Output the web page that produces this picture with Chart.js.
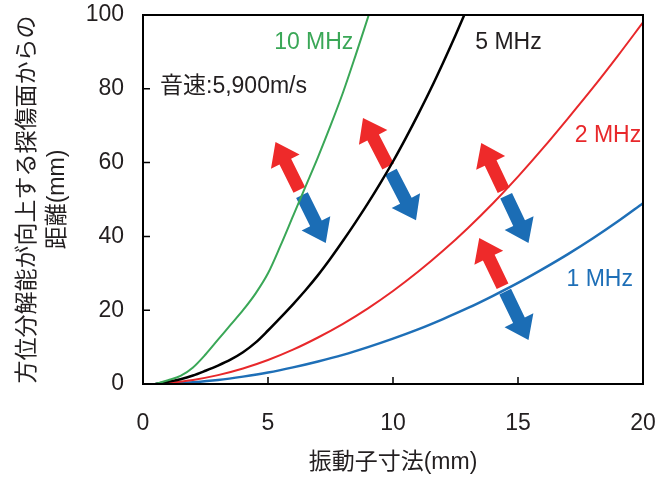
<!DOCTYPE html>
<html>
<head>
<meta charset="utf-8">
<script src="https://cdn.jsdelivr.net/npm/chart.js@4"></script>
<style>
  html, body { margin: 0; padding: 0; background: #fff; }
  #wrap { width: 667px; height: 477px; }
</style>
</head>
<body>
<div id="wrap"><canvas id="nearField"></canvas></div>
<script>
// Data
const x10 = [0.5, 1, 1.5, 2, 2.5, 3, 3.5, 4, 4.5, 5, 5.5, 6, 6.5, 7, 7.5, 8, 8.5, 9.03];
const y10 = [0, 1, 2.2, 4.5, 8, 12, 16, 20, 24.5, 30, 37.5, 45.5, 53.5, 61.5, 70, 79, 89, 100];

const x5 = [0.5, 1, 1.5, 2, 2.5, 3, 3.5, 4, 4.5, 5, 5.5, 6, 6.5, 7, 7.5, 8, 8.5, 9, 9.5, 10, 10.5, 11, 11.5, 12, 12.5, 12.85];
const y5 = [0, 0.6, 1.3, 2.3, 3.6, 5, 6.6, 8.6, 11.2, 14.5, 18, 21.6, 25.4, 29.5, 34, 38.8, 43.8, 49, 54.5, 60.3, 66.5, 73, 79.8, 87, 94.5, 100];

const x2 = [0.5, 1, 2, 3, 4, 5, 6, 7, 8, 9, 10, 11, 12, 13, 14, 15, 16, 17, 18, 19, 20];
const y2 = [0, 0.3, 1.1, 2.4, 4.2, 6.5, 9.3, 12.6, 16.3, 20.5, 25.2, 30.4, 36.1, 42.3, 49, 56.2, 63.9, 72, 80.3, 89, 98];

const x1 = [0.5, 1, 2, 3, 4, 5, 6, 7, 8, 9, 10, 11, 12, 13, 14, 15, 16, 17, 18, 19, 20];
const y1 = [0, 0.1, 0.5, 1.1, 2, 3.1, 4.5, 6.1, 7.9, 10, 12.3, 14.8, 17.6, 20.6, 23.9, 27.4, 31.2, 35.2, 39.5, 44.1, 49];

const seriesNames = ['10 MHz', '5 MHz', '2 MHz', '1 MHz'];
const xTitle = '振動子寸法(mm)';
const yTitle = ['方位分解能が向上する探傷面からの', '距離(mm)'];
const noteText = '音速:5,900m/s';

// where the labels and arrows sit (data units)
const seriesLabelPos = [[6.83, 92.4], [14.62, 92.4], [18.6, 67.2], [18.27, 28.2]];
const notePos = [0.68, 80.5];
const arrowPairs = [
    [[5.30, 65.6], [7.31, 38.2]],
    [[8.80, 72.1], [10.92, 44.4]],
    [[13.53, 65.3], [15.42, 38.2]],
    [[13.45, 39.6], [15.42, 11.9]],
];

const colors = ['#3aa757', '#000000', '#e8282b', '#1e6fb7'];
const FONT = '"Liberation Sans", "Noto Sans CJK JP", sans-serif';

function toPoints(xs, ys) {
    return xs.map((x, i) => ({ x: x, y: ys[i] }));
}

function drawArrow(ctx, tail, tip, color) {
    const dx = tip.x - tail.x, dy = tip.y - tail.y;
    const len = Math.hypot(dx, dy);
    const ux = dx / len, uy = dy / len;
    const nx = -uy, ny = ux;
    const shaft = 6.5, head = 16, headLen = 22;
    const bx = tip.x - ux * headLen, by = tip.y - uy * headLen;
    ctx.beginPath();
    ctx.moveTo(tail.x + nx * shaft, tail.y + ny * shaft);
    ctx.lineTo(bx + nx * shaft, by + ny * shaft);
    ctx.lineTo(bx + nx * head, by + ny * head);
    ctx.lineTo(tip.x, tip.y);
    ctx.lineTo(bx - nx * head, by - ny * head);
    ctx.lineTo(bx - nx * shaft, by - ny * shaft);
    ctx.lineTo(tail.x - nx * shaft, tail.y - ny * shaft);
    ctx.closePath();
    ctx.fillStyle = color;
    ctx.fill();
}

const decorPlugin = {
    id: 'decor',
    beforeDatasetsDraw(chart) {
        const { ctx, scales: { x, y } } = chart;
        ctx.save();
        arrowPairs.forEach(pair => {
            const a = { x: x.getPixelForValue(pair[0][0]), y: y.getPixelForValue(pair[0][1]) };
            const b = { x: x.getPixelForValue(pair[1][0]), y: y.getPixelForValue(pair[1][1]) };
            const L = Math.hypot(b.x - a.x, b.y - a.y);
            const ux = (b.x - a.x) / L, uy = (b.y - a.y) / L;
            const mx = (a.x + b.x) / 2, my = (a.y + b.y) / 2;
            const gap = 3;
            drawArrow(ctx, { x: mx - ux * gap, y: my - uy * gap }, a, '#ee2a2a');
            drawArrow(ctx, { x: mx + ux * gap, y: my + uy * gap }, b, '#1b6db5');
        });
        ctx.restore();
    },
    afterDatasetsDraw(chart) {
        const { ctx, chartArea: area, scales: { x, y } } = chart;
        ctx.save();
        // frame
        ctx.strokeStyle = '#000';
        ctx.lineWidth = 2;
        ctx.strokeRect(area.left, area.top, area.right - area.left, area.bottom - area.top);
        // inward ticks
        ctx.beginPath();
        [20, 40, 60, 80].forEach(v => {
            const py = y.getPixelForValue(v);
            ctx.moveTo(area.left, py);
            ctx.lineTo(area.left + 7, py);
        });
        [5, 10, 15].forEach(v => {
            const px = x.getPixelForValue(v);
            ctx.moveTo(px, area.bottom);
            ctx.lineTo(px, area.bottom - 7);
        });
        ctx.lineWidth = 1.5;
        ctx.stroke();

        // series labels and note
        ctx.font = '23px ' + FONT;
        ctx.textBaseline = 'middle';
        ctx.textAlign = 'center';
        seriesNames.forEach((name, i) => {
            ctx.fillStyle = colors[i] === '#000000' ? '#231f20' : colors[i];
            ctx.fillText(name, x.getPixelForValue(seriesLabelPos[i][0]), y.getPixelForValue(seriesLabelPos[i][1]));
        });
        ctx.textAlign = 'left';
        ctx.fillStyle = '#231f20';
        ctx.fillText(noteText, x.getPixelForValue(notePos[0]), y.getPixelForValue(notePos[1]));
        ctx.restore();
    }
};

const ctx = document.getElementById('nearField').getContext('2d');
const allX = [x10, x5, x2, x1];
const allY = [y10, y5, y2, y1];

const nearChart = new Chart(ctx, {
    type: 'line',
    data: {
        datasets: seriesNames.map((name, i) => ({
            label: name,
            data: toPoints(allX[i], allY[i]),
            borderColor: colors[i],
            borderWidth: i === 0 || i === 2 ? 2 : 2.5,
            pointRadius: 0,
            cubicInterpolationMode: 'monotone',
            fill: false,
        })),
    },
    options: {
        responsive: true,
        maintainAspectRatio: false,
        animation: false,
        layout: { padding: { left: 0, right: 24, top: 15, bottom: 0 } },
        plugins: {
            legend: { display: false },
            tooltip: { enabled: false },
        },
        scales: {
            x: {
                type: 'linear',
                min: 0,
                max: 20,
                afterFit: s => {
                    s.height = 93;
                    s.paddingLeft = 0;
                    s.paddingRight = 0;
                },
                grid: { display: false, drawTicks: false },
                border: { display: false },
                ticks: {
                    stepSize: 5,
                    padding: 26,
                    color: '#231f20',
                    font: { size: 23, family: FONT },
                },
                title: {
                    display: true,
                    text: xTitle,
                    color: '#231f20',
                    font: { size: 23, family: FONT },
                    padding: { top: 0, bottom: 1 },
                },
            },
            y: {
                min: 0,
                max: 100,
                afterFit: s => {
                    s.width = 143;
                    s.paddingTop = 0;
                    s.paddingBottom = 0;
                },
                grid: { display: false, drawTicks: false },
                border: { display: false },
                ticks: {
                    stepSize: 20,
                    padding: 19,
                    color: '#231f20',
                    font: { size: 23, family: FONT },
                },
                title: {
                    display: true,
                    text: yTitle,
                    color: '#231f20',
                    font: { size: 23, family: FONT, lineHeight: 1.3 },
                    padding: { top: 13, bottom: 0 },
                },
            },
        },
    },
    plugins: [decorPlugin],
});
</script>
</body>
</html>
